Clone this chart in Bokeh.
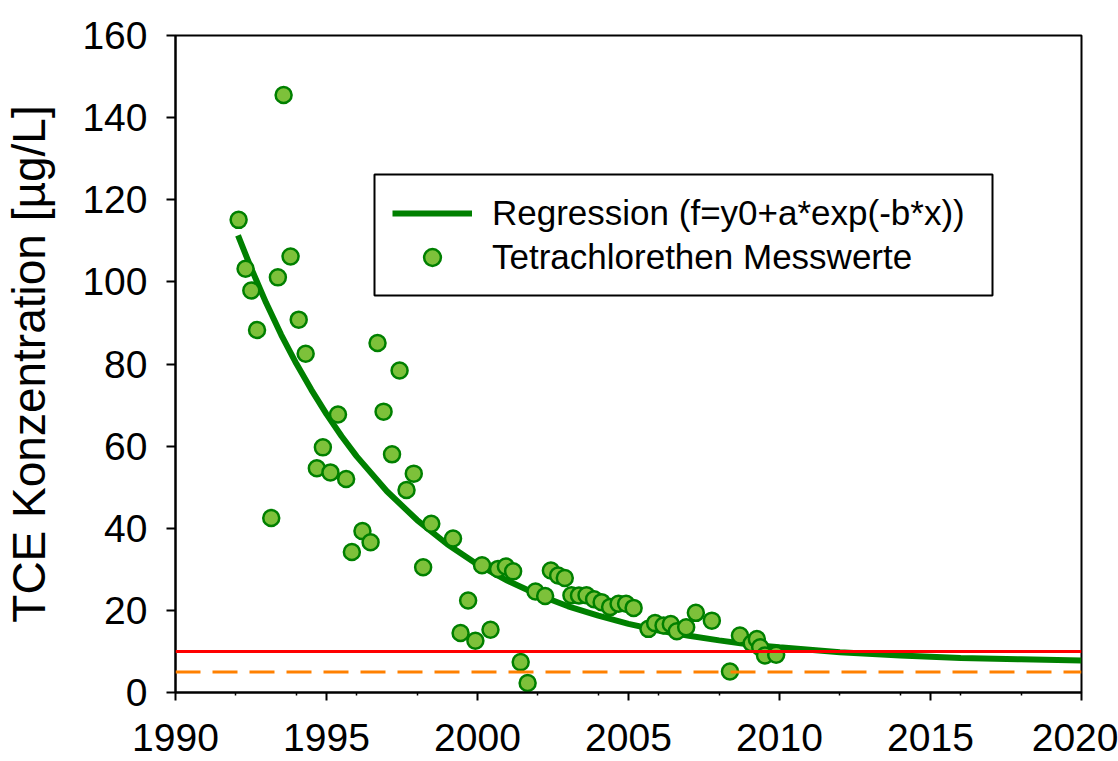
from bokeh.plotting import figure
from bokeh.models import Range1d, FixedTicker, Span, Legend, LegendItem, BoxAnnotation
from bokeh.embed import file_html
from bokeh.resources import INLINE

# ---- data ----
meas_year = [1992.09, 1992.32, 1992.51, 1992.70, 1993.17, 1993.39, 1993.58, 1993.81,
             1994.08, 1994.31, 1994.68, 1994.88, 1995.13, 1995.38, 1995.65, 1995.84,
             1996.19, 1996.46, 1996.69, 1996.89, 1997.17, 1997.42, 1997.65, 1997.89,
             1998.20, 1998.47, 1999.19, 1999.44, 1999.69, 1999.93, 2000.15, 2000.43,
             2000.68, 2000.94, 2001.18, 2001.43, 2001.66, 2001.92, 2002.24, 2002.43,
             2002.67, 2002.89, 2003.11, 2003.36, 2003.61, 2003.86, 2004.11, 2004.39,
             2004.67, 2004.92, 2005.17, 2005.66, 2005.88, 2006.16, 2006.40, 2006.60,
             2006.91, 2007.23, 2007.76, 2008.36, 2008.69, 2009.08, 2009.25, 2009.36,
             2009.52, 2009.89]
meas_tce = [115.1, 103.2, 97.9, 88.3, 42.5, 101.1, 145.5, 106.2,
            90.8, 82.5, 54.6, 59.7, 53.6, 67.7, 52.0, 34.2,
            39.3, 36.6, 85.1, 68.4, 58.0, 78.4, 49.3, 53.3,
            30.5, 41.1, 37.5, 14.5, 22.4, 12.6, 31.0, 15.3,
            30.1, 30.7, 29.5, 7.4, 2.3, 24.6, 23.5, 29.7,
            28.5, 27.9, 23.7, 23.6, 23.7, 22.7, 22.0, 20.8,
            21.6, 21.6, 20.6, 15.5, 16.9, 16.3, 16.7, 14.9,
            15.9, 19.4, 17.5, 5.1, 13.9, 12.0, 13.0, 11.0,
            9.0, 9.2]

# regression curve, values
reg_year = [1992.07, 1992.5, 1993.0, 1993.5, 1994.0, 1994.5, 1995.0, 1995.5, 1996.0,
            1997.0, 1998.0, 1999.0, 2000.0, 2001.0, 2002.0, 2003.0, 2004.0,
            2005.0, 2006.0, 2007.0, 2008.0, 2009.0, 2010.0, 2012.0, 2014.0,
            2016.0, 2018.0, 2020.0]
reg_tce = [111.3, 103.4, 94.9, 87.1, 80.1, 73.7, 67.8, 62.4, 57.5,
           49.0, 42.0, 36.1, 31.2, 27.2, 23.8, 21.0, 18.7,
           16.7, 15.1, 13.8, 12.7, 11.7, 11.0, 9.8, 9.0,
           8.4, 8.1, 7.8]

limit_red = 10
limit_orange = 5

x_major = [1990, 1995, 2000, 2005, 2010, 2015, 2020]
x_minor = [1992, 1994, 1996, 1998, 2002, 2004, 2006, 2008, 2012, 2014, 2016, 2018]
y_major = [0, 20, 40, 60, 80, 100, 120, 140, 160]

label_reg = "Regression (f=y0+a*exp(-b*x))"
label_meas = "Tetrachlorethen Messwerte"
y_title = "TCE Konzentration [µg/L]"

FONT = "Liberation Sans"

p = figure(width=1118, height=761, x_range=Range1d(1990, 2020), y_range=Range1d(0, 160),
           output_backend="svg", toolbar_location=None,
           min_border_left=168, min_border_right=37, min_border_top=35, min_border_bottom=69)

p.xgrid.visible = False
p.ygrid.visible = False
p.outline_line_color = "black"
p.outline_line_width = 2
p.background_fill_color = "white"
p.border_fill_color = "white"

curve = p.line(reg_year, reg_tce, line_color="#008000", line_width=6)
pts = p.scatter(meas_year, meas_tce, size=16, fill_color="#7dc13a", line_color="#008000",
                line_width=2.5)

p.add_layout(Span(location=limit_red, dimension="width", line_color="#ff0000", line_width=3))
p.add_layout(Span(location=limit_orange, dimension="width", line_color="#ff8000", line_width=3,
                  line_dash="25 12"))

xa = p.xaxis[0]
xa.ticker = FixedTicker(ticks=x_major, minor_ticks=x_minor)
xa.major_label_text_font = FONT
xa.major_label_text_font_size = "39px"
xa.major_label_text_color = "black"
xa.major_tick_out = 8
xa.major_tick_in = 0
xa.minor_tick_out = 3
xa.minor_tick_in = 0
xa.major_label_standoff = 23
xa.axis_line_width = 2
xa.major_tick_line_width = 2
xa.minor_tick_line_width = 1.5

ya = p.yaxis[0]
ya.ticker = FixedTicker(ticks=y_major, minor_ticks=[])
ya.major_label_text_font = FONT
ya.major_label_text_font_size = "39px"
ya.major_label_text_color = "black"
ya.major_tick_out = 9
ya.major_tick_in = 0
ya.minor_tick_out = 0
ya.minor_tick_in = 0
ya.major_label_standoff = 19
ya.axis_line_width = 2
ya.major_tick_line_width = 2
ya.axis_label = y_title
ya.axis_label_text_font = FONT
ya.axis_label_text_font_size = "46px"
ya.axis_label_text_font_style = "normal"
ya.axis_label_text_color = "black"
ya.axis_label_standoff = 24

# legend frame (drawn separately so its width matches the original)
p.add_layout(BoxAnnotation(left=374, right=992, top=174, bottom=295,
                           left_units="canvas", right_units="canvas",
                           top_units="canvas", bottom_units="canvas",
                           fill_color="white", fill_alpha=1,
                           line_color="black", line_alpha=1, line_width=2,
                           level="annotation"))

legend = Legend(items=[LegendItem(label=label_reg, renderers=[curve]),
                       LegendItem(label=label_meas, renderers=[pts])],
                location=(198, 395))
legend.label_text_font = FONT
legend.label_text_font_size = "35px"
legend.label_text_color = "black"
legend.glyph_width = 80
legend.glyph_height = 42
legend.label_height = 40
legend.label_standoff = 20
legend.spacing = 2
legend.padding = 19
legend.margin = 0
legend.border_line_alpha = 0
legend.background_fill_alpha = 0
p.add_layout(legend, "center")

open("out.html", "w").write(file_html(p, INLINE))
